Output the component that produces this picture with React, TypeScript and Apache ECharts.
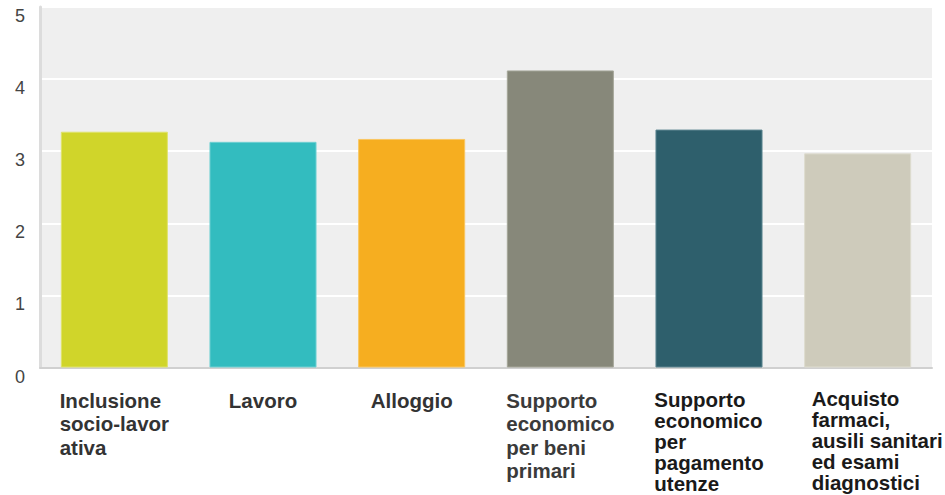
import React, { useEffect, useRef } from "react";
import * as echarts from "echarts";

const categories = [
  "Inclusione\nsocio-lavor\nativa",
  "Lavoro",
  "Alloggio",
  "Supporto\neconomico\nper beni\nprimari",
  "Supporto\neconomico\nper\npagamento\nutenze",
  "Acquisto\nfarmaci,\nausili sanitari\ned esami\ndiagnostici",
];
const values = [3.27, 3.13, 3.17, 4.12, 3.3, 2.97];
const barColors = ["#d0d52a", "#33bcbf", "#f6ae20", "#87887a", "#2e5f6c", "#cecbbb"];
const borderColors = ["#dfe36a", "#6fd0d2", "#f9c660", "#a5a699", "#5c8590", "#dedccf"];
const labelColors = ["#333333", "#333333", "#333333", "#3a3a3a", "#1a1a1a", "#1a1a1a"];
const labelLineHeights = [23.5, 23.5, 23.5, 23.5, 21.1, 20.8];
const yTicks = [0, 1, 2, 3, 4, 5];

export default function App() {
  const ref = useRef<HTMLDivElement>(null);
  useEffect(() => {
    if (!ref.current) return;
    const chart = echarts.init(ref.current, null, { renderer: "svg" });
    const rich: Record<string, any> = {};
    categories.forEach((_, i) => {
      rich["c" + i] = {
        align: "left",
        fontSize: 20.5,
        fontWeight: "bold",
        fontFamily: "Liberation Sans, Arial, sans-serif",
        color: labelColors[i],
        lineHeight: labelLineHeights[i],
        ...(i === 5 ? { width: 92 } : {}),
      };
    });
    chart.setOption({
      animation: false,
      grid: {
        left: 40,
        right: 13,
        top: 7,
        bottom: 127.5,
        show: true,
        backgroundColor: "#efefef",
        borderWidth: 0,
        outerBoundsMode: "none",
        containLabel: false,
      },
      xAxis: {
        type: "category",
        data: categories,
        axisLine: { show: true, lineStyle: { color: "#d0d0d0", width: 2 } },
        axisTick: { show: false },
        axisLabel: {
          interval: 0,
          margin: 21,
          verticalAlign: "top",
          hideOverlap: false,
          formatter: (v: string, idx: number) =>
            v
              .split("\n")
              .map((l) => `{c${idx}|${l}}`)
              .join("\n"),
          rich,
        },
      },
      yAxis: {
        type: "value",
        min: 0,
        max: 5,
        interval: 1,
        axisLine: { show: true, lineStyle: { color: "#dcdcdc", width: 3 } },
        axisTick: { show: false },
        splitLine: { show: true, lineStyle: { color: "#ffffff", width: 2 } },
        axisLabel: {
          margin: 15,
          verticalAlign: "top",
          fontSize: 18,
          fontFamily: "Liberation Sans, Arial, sans-serif",
          color: "#444444",
          formatter: (v: number) => (yTicks.includes(v) ? String(v) : ""),
        },
      },
      series: [
        {
          type: "bar",
          barWidth: "72%",
          data: values.map((v, i) => ({
            value: v,
            itemStyle: { color: barColors[i], borderColor: borderColors[i], borderWidth: 1 },
          })),
        },
      ],
    });
    return () => chart.dispose();
  }, []);
  return <div ref={ref} style={{ width: 945, height: 495, position: "absolute", left: 0, top: 0 }} />;
}
